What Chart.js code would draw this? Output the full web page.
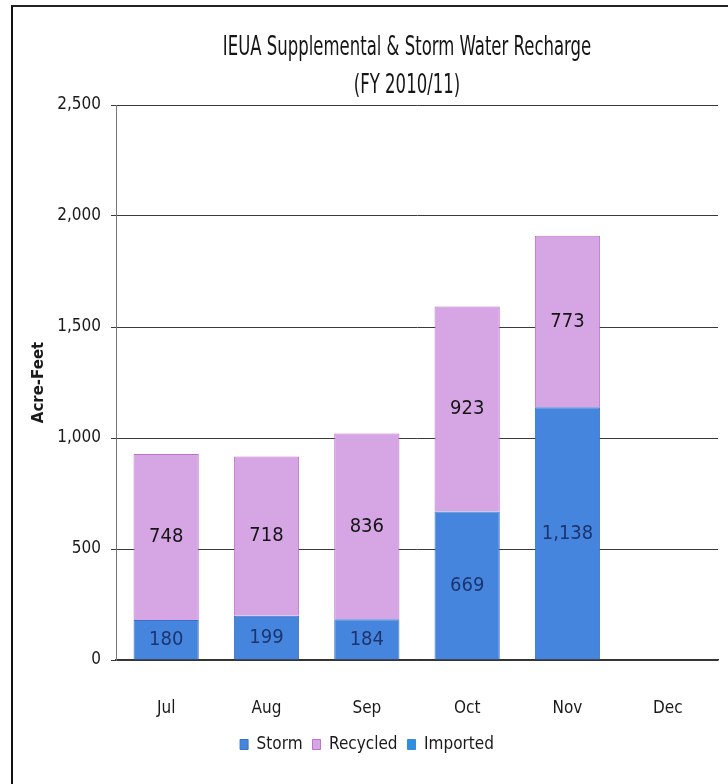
<!DOCTYPE html>
<html>
<head>
<meta charset="utf-8">
<script src="https://cdn.jsdelivr.net/npm/chart.js@4/dist/chart.umd.min.js"></script>
<style>
  html, body { margin: 0; padding: 0; background: #fff; }
  #wrap { position: relative; width: 728px; height: 784px; }
  #frame { position: absolute; left: 11px; top: 5px; width: 717px; height: 779px;
           border-left: 2px solid #111; border-top: 2px solid #222; box-sizing: border-box; }
  canvas { position: absolute; left: 0; top: 0; }
</style>
</head>
<body>
<div id="wrap">
  <div id="frame"></div>
  <canvas id="canvasRecarga" width="728" height="784"></canvas>
</div>
<script>
// datos del grafico
var meses = ['Jul', 'Aug', 'Sep', 'Oct', 'Nov', 'Dec'];
var storm = [180, 199, 184, 669, 1138, 0];
var recycled = [748, 718, 836, 923, 773, 0];
var imported = [0, 0, 0, 0, 0, 0];
var tituloLineas = ['IEUA Supplemental & Storm Water Recharge', '(FY 2010/11)'];
var ejeY = 'Acre-Feet';

var fuente = "'Liberation Sans Narrow', 'DejaVu Sans Condensed', sans-serif";

// titulo centrado sobre el area del grafico (letra estrecha tipo Calibri)
var tituloPlugin = {
	id: 'tituloArea',
	afterDraw: function(chart){
		var ctx = chart.ctx;
		var cx = (chart.chartArea.left + chart.chartArea.right) / 2 - 10;
		var sx = 0.68;
		ctx.save();
		ctx.fillStyle = '#151515';
		ctx.font = '27px ' + fuente;
		ctx.textAlign = 'center';
		ctx.textBaseline = 'middle';
		ctx.translate(cx, 0);
		ctx.scale(sx, 1);
		ctx.fillText(tituloLineas[0], 0, 48);
		ctx.fillText(tituloLineas[1], 0, 86);
		ctx.restore();
	}
};

// etiquetas de valores dentro de cada barra
var valoresPlugin = {
	id: 'valores',
	afterDatasetsDraw: function(chart){
		var ctx = chart.ctx;
		ctx.save();
		ctx.font = '20px ' + fuente;
		ctx.textAlign = 'center';
		ctx.textBaseline = 'middle';
		chart.data.datasets.forEach(function(ds, i){
			var meta = chart.getDatasetMeta(i);
			meta.data.forEach(function(bar, j){
				var v = ds.data[j];
				if (!v) return;
				var p = bar.getCenterPoint();
				ctx.fillStyle = ds.labelColor;
				ctx.fillText(v.toLocaleString('en-US'), p.x, p.y);
			});
		});
		ctx.restore();
	}
};

var ctx = document.getElementById('canvasRecarga').getContext('2d');
window.myBar = new Chart(ctx, {
	type: 'bar',
	data: {
		labels: meses,
		datasets: [
			{ label: 'Storm', data: storm, backgroundColor: '#4585de', borderColor: '#3a70c8', borderWidth: 1, labelColor: '#1c3570' },
			{ label: 'Recycled', data: recycled, backgroundColor: '#d6a6e4', borderColor: '#c070d0', borderWidth: 1, labelColor: '#151515' },
			{ label: 'Imported', data: imported, backgroundColor: '#2f8ee0', borderColor: '#2f8ee0', borderWidth: 1, labelColor: '#151515' }
		]
	},
	plugins: [tituloPlugin, valoresPlugin],
	options: {
		responsive: false,
		animation: false,
		layout: { padding: { left: 16, right: 10, top: 105, bottom: 21 } },
		datasets: { bar: { barPercentage: 0.65, categoryPercentage: 1.0 } },
		scales: {
			x: {
				stacked: true,
				afterFit: function(s){ s.height = 66; },
				grid: { display: false, drawTicks: false },
				border: { color: '#333', width: 1.5 },
				ticks: { color: '#1a1a1a', padding: 38, font: { family: fuente, size: 17 } }
			},
			y: {
				stacked: true,
				min: 0,
				max: 2500,
				afterFit: function(s){ s.width = 100; },
				ticks: {
					stepSize: 500,
					color: '#1a1a1a',
					padding: 10,
					font: { family: fuente, size: 17 },
					callback: function(v){ return v.toLocaleString('en-US'); }
				},
				grid: { color: '#3a3a3a', lineWidth: 1, tickLength: 5 },
				border: { color: '#777', width: 1 },
				title: { display: true, text: ejeY, color: '#1a1a1a', padding: { top: 14, bottom: 0 },
					font: { family: "'DejaVu Sans', Verdana, sans-serif", size: 15, weight: 'bold' } }
			}
		},
		plugins: {
			title: { display: false },
			tooltip: { enabled: false },
			legend: {
				position: 'bottom',
				labels: { boxWidth: 8, boxHeight: 10, padding: 10, color: '#1a1a1a', font: { family: fuente, size: 17 } }
			}
		}
	}
});
</script>
</body>
</html>
